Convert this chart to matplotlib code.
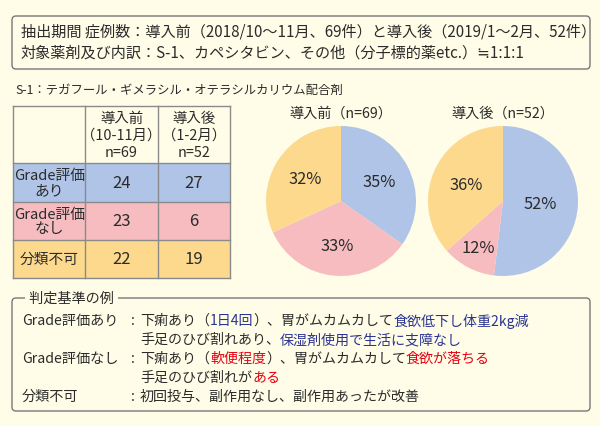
import numpy as np
import matplotlib
matplotlib.use("Agg")
import matplotlib.pyplot as plt
from matplotlib.patches import FancyBboxPatch, Rectangle

FONT = ['Noto Sans CJK JP', 'DejaVu Sans']
plt.rcParams['font.family'] = FONT

BG = '#FFFDE7'
INK = '#2b2b2b'
BLUE_TXT = '#2a3592'
RED_TXT = '#e60012'
CAT_COLORS = ['#AFC4E7', '#F6BCC0', '#FCD98D']

# ---- data ----
periods = ["導入前", "導入後"]
period_months = ["（10-11月）", "（1-2月）"]
n_totals = [69, 52]
categories = ["Grade評価\nあり", "Grade評価\nなし", "分類不可"]
before_counts = [24, 23, 22]
after_counts = [27, 6, 19]
before_pct_labels = ["35%", "33%", "32%"]
after_pct_labels = ["52%", "12%", "36%"]

header_lines = [
    "抽出期間 症例数：導入前（2018/10～11月、69件）と導入後（2019/1～2月、52件）",
    "対象薬剤及び内訳：S-1、カペシタビン、その他（分子標的薬etc.）≒1:1:1",
]
drug_note = "S-1：テガフール・ギメラシル・オテラシルカリウム配合剤"

criteria_title = "判定基準の例"
criteria_labels = ["Grade評価あり", "", "Grade評価なし", "", "分類不可"]
criteria_runs = [
    [("下痢あり（", INK), ("1日4回", BLUE_TXT), ("）、胃がムカムカして", INK),
     ("食欲低下し体重2kg減", BLUE_TXT)],
    [("手足のひび割れあり、", INK), ("保湿剤使用で生活に支障なし", BLUE_TXT)],
    [("下痢あり（", INK), ("軟便程度", RED_TXT), ("）、胃がムカムカして", INK),
     ("食欲が落ちる", RED_TXT)],
    [("手足のひび割れが", INK), ("ある", RED_TXT)],
    [("初回投与、副作用なし、副作用あったが改善", INK)],
]

W, H = 600, 427
fig = plt.figure(figsize=(W / 100, H / 100), dpi=100, facecolor=BG)
ax = fig.add_axes([0, 0, 1, 1])
ax.set_xlim(0, W)
ax.set_ylim(H, 0)
ax.axis('off')
renderer = fig.canvas.get_renderer()


def draw_runs(x, y, runs, size=10):
    for s, color in runs:
        t = ax.text(x, y, s, color=color, fontsize=size, ha='left', va='center')
        x += t.get_window_extent(renderer=renderer).width
    return x


# ---- top info box ----
ax.add_patch(FancyBboxPatch((12, 17), 578, 53, boxstyle="round,pad=0,rounding_size=4",
                            fc='none', ec='#777777', lw=1))
for i, line in enumerate(header_lines):
    ax.text(21, 32 + i * 21, line, fontsize=10.9, color=INK, va='center')

ax.text(15, 90, drug_note, fontsize=8.9, color=INK, va='center')

# ---- table ----
col_x = [13, 85, 158, 230]
row_y = [107, 164, 203, 241, 279]
ax.add_patch(Rectangle((col_x[0], row_y[0]), col_x[-1] - col_x[0], row_y[1] - row_y[0],
                       fc=BG, ec='none'))
for r in range(3):
    ax.add_patch(Rectangle((col_x[0], row_y[r + 1]), col_x[-1] - col_x[0],
                           row_y[r + 2] - row_y[r + 1], fc=CAT_COLORS[r], ec='none'))
for yy in row_y:
    ax.plot([col_x[0], col_x[-1]], [yy, yy], color='#8a8a8a', lw=1)
for xx in col_x:
    ax.plot([xx, xx], [row_y[0], row_y[-1]], color='#8a8a8a', lw=1)

for j in range(2):
    cx = (col_x[j + 1] + col_x[j + 2]) / 2
    ax.text(cx, 119, periods[j], fontsize=10.4, color=INK, ha='center', va='center')
    ax.text(cx, 136, period_months[j], fontsize=10.4, color=INK, ha='center', va='center')
    ax.text(cx, 153, f"n={n_totals[j]}", fontsize=10.4, color=INK, ha='center', va='center')

for r, cat in enumerate(categories):
    cy = (row_y[r + 1] + row_y[r + 2]) / 2
    ax.text((col_x[0] + col_x[1]) / 2 + 0.5, cy, cat, fontsize=10.6, color=INK,
            ha='center', va='center', linespacing=1.05)
    for j, counts in enumerate([before_counts, after_counts]):
        ax.text((col_x[j + 1] + col_x[j + 2]) / 2, cy, str(counts[r]), fontsize=12,
                color=INK, ha='center', va='center')

# ---- pies ----
pie_specs = [
    (341, before_counts, before_pct_labels, [0.57, 0.59, 0.56]),
    (503, after_counts, after_pct_labels, [0.50, 0.70, 0.54]),
]
R = 75
CY = 202
for k, (cx, counts, labels, dists) in enumerate(pie_specs):
    pax = fig.add_axes([(cx - R) / W, (H - CY - R) / H, 2 * R / W, 2 * R / H])
    wedges, _ = pax.pie(counts, colors=CAT_COLORS, startangle=90, counterclock=False,
                        wedgeprops=dict(linewidth=0))
    pax.set_xlim(-1, 1)
    pax.set_ylim(-1, 1)
    for w, lab, d in zip(wedges, labels, dists):
        ang = np.deg2rad((w.theta1 + w.theta2) / 2)
        pax.text(d * np.cos(ang), d * np.sin(ang), lab, fontsize=11.8, color=INK,
                 ha='center', va='center')
    ax.text(cx, 114, f"{periods[k]}（n={n_totals[k]}）", fontsize=10.2, color=INK,
            ha='center', va='center')

# ---- criteria box ----
ax.add_patch(FancyBboxPatch((12, 299), 578, 113, boxstyle="round,pad=0,rounding_size=4",
                            fc='none', ec='#777777', lw=1))
ax.text(26, 299, " " + criteria_title + " ", fontsize=10.2, color=INK, va='center',
        bbox=dict(fc=BG, ec='none', pad=1))
line_y = [321, 340, 359, 378, 397]
for lab, runs, yy in zip(criteria_labels, criteria_runs, line_y):
    if lab:
        ax.text(22, yy, lab, fontsize=10.2, color=INK, va='center')
        ax.text(133, yy, ":", fontsize=10.2, color=INK, va='center', ha='center')
    draw_runs(140, yy, runs, size=10.1)

fig.savefig("out.png", dpi=100, facecolor=BG)
